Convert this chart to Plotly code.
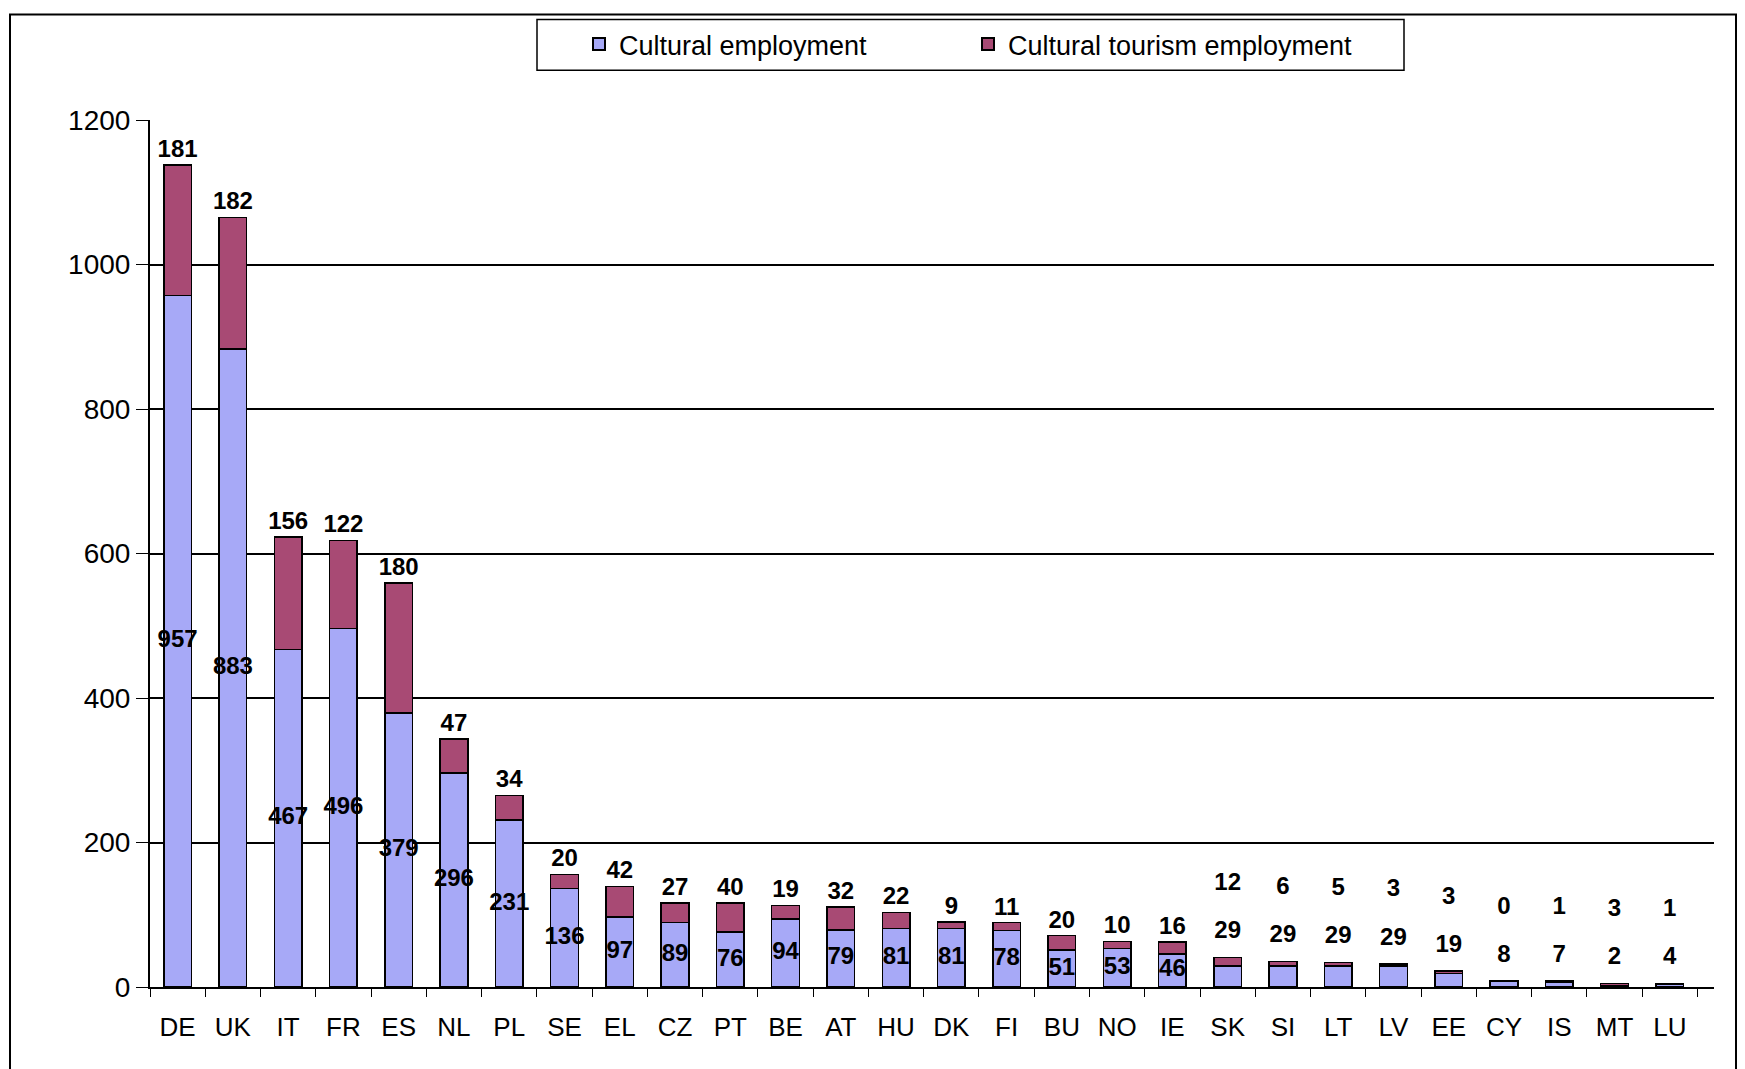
import plotly.graph_objects as go

countries = ["DE", "UK", "IT", "FR", "ES", "NL", "PL", "SE", "EL", "CZ", "PT", "BE", "AT", "HU",
             "DK", "FI", "BU", "NO", "IE", "SK", "SI", "LT", "LV", "EE", "CY", "IS", "MT", "LU"]
cultural = [957, 883, 467, 496, 379, 296, 231, 136, 97, 89, 76, 94, 79, 81,
            81, 78, 51, 53, 46, 29, 29, 29, 29, 19, 8, 7, 2, 4]
tourism = [181, 182, 156, 122, 180, 47, 34, 20, 42, 27, 40, 19, 32, 22,
           9, 11, 20, 10, 16, 12, 6, 5, 3, 3, 0, 1, 3, 1]
y_ticks = [0, 200, 400, 600, 800, 1000, 1200]

blue = "#A7A9F7"
red = "#A84A74"
label_font = dict(family="Liberation Sans Narrow, Arial Narrow, Liberation Sans", size=24, color="black")

totals = [c + t for c, t in zip(cultural, tourism)]
# label positions (styling only): small bars get labels stacked above
blue_lab_y = []
red_lab_y = []
for c, tot in zip(cultural, totals):
    if c >= 40:
        by = c / 2
        ry = tot + 3
    else:
        by = tot + 35
        ry = by + 50
    blue_lab_y.append(by)
    red_lab_y.append(ry)

fig = go.Figure()
fig.add_trace(go.Bar(x=countries, y=cultural, name="Cultural employment",
                     marker=dict(color=blue, line=dict(color="black", width=1.5)), width=0.5))
fig.add_trace(go.Bar(x=countries, y=tourism, name="Cultural tourism employment",
                     marker=dict(color=red, line=dict(color="black", width=1.5)), width=0.5))
fig.add_trace(go.Scatter(x=countries, y=blue_lab_y, mode="text", text=[str(v) for v in cultural],
                         textposition="middle center", textfont=label_font, showlegend=False,
                         hoverinfo="skip", texttemplate="<b>%{text}</b>"))
fig.add_trace(go.Scatter(x=countries, y=red_lab_y, mode="text", text=[str(v) for v in tourism],
                         textposition="top center", textfont=label_font, showlegend=False,
                         hoverinfo="skip", texttemplate="<b>%{text}</b>"))

W, H = 1745, 1069
ml, mr, mt, mb = 142, 39, 107, 90
pw, ph = W - ml - mr, H - mt - mb


def px_x(fx):
    return (fx - ml) / pw


def px_y(fy):
    return (H - mb - fy) / ph


fig.update_layout(
    width=W, height=H, barmode="stack",
    paper_bgcolor="white", plot_bgcolor="white",
    margin=dict(l=ml, r=mr, t=mt, b=mb),
    font=dict(family="Liberation Sans, Arial", size=24, color="black"),
    legend=dict(orientation="h", x=px_x(571), xanchor="left", y=px_y(31), yanchor="middle",
                borderwidth=0, bgcolor="rgba(0,0,0,0)",
                font=dict(family="Liberation Sans Narrow, Arial Narrow, Liberation Sans", size=27),
                entrywidth=344, traceorder="normal", itemsizing="constant"),
    xaxis=dict(type="category", range=[-0.5, 27.8], showline=True, linecolor="black", linewidth=2,
               ticks="outside", tickson="boundaries", ticklen=8, tickcolor="black",
               tickfont=dict(size=26), ticklabelstandoff=16, showgrid=False),
    yaxis=dict(range=[0, 1200], tickvals=y_ticks, showline=True, linecolor="black", linewidth=2,
               ticks="outside", ticklen=12, tickcolor="black", tickfont=dict(size=28),
               showgrid=True, gridcolor="black", gridwidth=1.5, zeroline=False),
    shapes=[
        dict(type="rect", xref="paper", yref="paper",
             x0=px_x(2), x1=px_x(1728), y0=px_y(H + 20), y1=px_y(1),
             line=dict(color="black", width=2), layer="below"),
        dict(type="rect", xref="paper", yref="paper",
             x0=px_x(529), x1=px_x(1396), y0=px_y(57), y1=px_y(6),
             line=dict(color="black", width=1.5), layer="below"),
    ],
)

fig.write_html("out.html")
